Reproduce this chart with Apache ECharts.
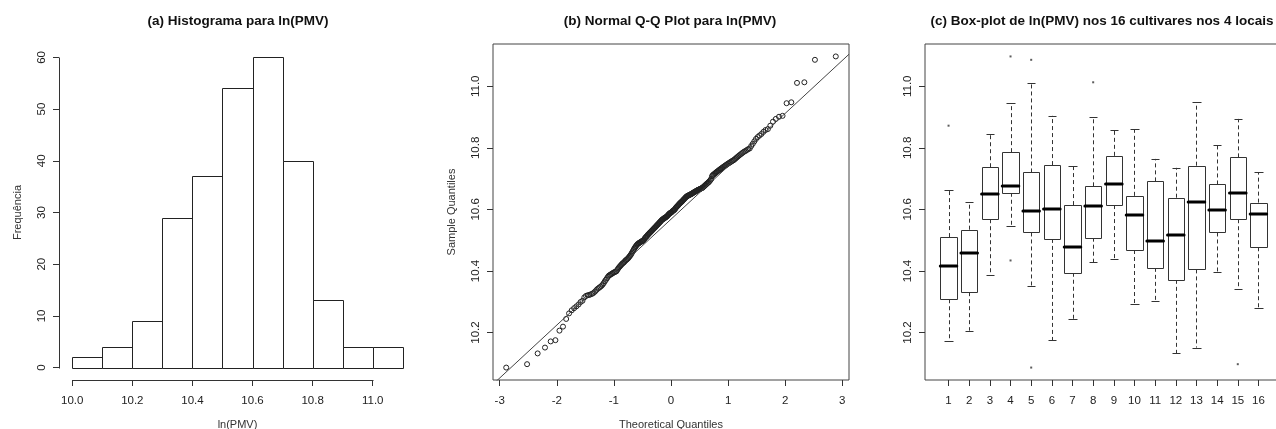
<!DOCTYPE html>
<html><head><meta charset="utf-8">
<script src="https://cdn.jsdelivr.net/npm/echarts@6/dist/echarts.min.js"></script>
<style>html,body{margin:0;padding:0;background:#fff}#c{width:1276px;height:429px}</style>
</head><body><div id="c"></div>
<script>
// ---------- DATA ----------
const histBreaks = [10.0,10.1,10.2,10.3,10.4,10.5,10.6,10.7,10.8,10.9,11.0,11.1];
const histCounts = [2,4,9,29,37,54,60,40,13,4,4];
const histXTicks = [10.0,10.2,10.4,10.6,10.8,11.0];
const histYTicks = [0,10,20,30,40,50,60];

// sorted sample values of ln(PMV)
const qqSample = [
10.086,10.097,10.132,10.151,10.171,10.175,10.206,10.219,10.244,10.262,
10.272,10.279,10.285,10.291,10.299,10.303,10.314,10.319,10.321,10.322,
10.324,10.326,10.329,10.333,10.338,10.342,10.345,10.348,10.351,10.355,
10.360,10.366,10.371,10.376,10.381,10.385,10.387,10.389,10.391,10.393,
10.395,10.396,10.398,10.399,
10.404,10.408,10.412,10.415,10.418,10.421,10.424,10.426,10.428,10.431,
10.434,10.436,10.438,10.440,10.443,10.446,10.449,10.452,10.456,10.460,
10.464,10.468,10.472,10.476,10.479,10.482,10.485,10.487,10.489,10.490,
10.492,10.493,10.494,10.496,10.497,10.498,10.499,
10.502,10.505,10.508,10.510,10.512,10.514,10.517,10.519,10.521,10.523,
10.525,10.527,10.529,10.531,10.533,10.535,10.537,10.539,10.541,10.543,
10.545,10.547,10.549,10.551,10.553,10.555,10.557,10.559,10.561,10.563,
10.565,10.567,10.568,10.569,10.571,10.572,10.573,10.574,10.576,10.577,
10.579,10.581,10.583,10.585,10.587,10.588,10.589,10.590,10.592,10.594,
10.595,10.597,10.598,10.599,
10.602,10.605,10.607,10.609,10.611,10.613,10.615,10.617,10.619,10.621,
10.623,10.624,10.626,10.628,10.630,10.632,10.634,10.636,10.638,10.640,
10.642,10.643,10.644,10.645,10.646,10.647,10.648,10.649,10.650,10.651,
10.652,10.654,10.655,10.656,10.657,10.658,10.660,10.661,10.662,10.663,
10.664,10.665,10.666,10.667,10.668,10.669,10.670,10.672,10.674,10.676,
10.678,10.680,10.682,10.684,10.686,10.688,10.690,10.693,10.696,10.699,
10.708,10.711,10.713,10.715,10.717,10.719,10.721,10.723,10.725,10.727,
10.729,10.731,10.733,10.735,10.737,10.739,10.741,10.743,10.745,10.747,
10.749,10.751,10.753,10.755,10.757,10.759,10.761,10.764,10.767,10.770,
10.773,10.776,10.779,10.782,10.785,10.788,10.790,10.793,10.796,10.798,
10.806,10.813,10.821,10.829,10.835,10.840,10.845,10.852,10.858,10.861,
10.872,10.885,10.894,
10.901,10.904,10.945,10.948,11.011,11.013,11.086,11.097
];
const qqXTicks = [-3,-2,-1,0,1,2,3];
const valueTicks = [10.2,10.4,10.6,10.8,11.0];
const qqLineIntercept = 10.568;
const qqLineSlope = 0.172;

const cultivars = ['1','2','3','4','5','6','7','8','9','10','11','12','13','14','15','16'];
const boxLower  = [10.171,10.206,10.387,10.547,10.351,10.175,10.244,10.428,10.438,10.291,10.301,10.132,10.151,10.395,10.342,10.279];
const boxQ1     = [10.308,10.331,10.568,10.654,10.525,10.504,10.394,10.508,10.614,10.468,10.410,10.371,10.405,10.525,10.568,10.477];
const boxMedian = [10.417,10.457,10.649,10.675,10.594,10.600,10.478,10.611,10.684,10.581,10.498,10.518,10.624,10.598,10.654,10.585];
const boxQ3     = [10.510,10.534,10.737,10.786,10.720,10.744,10.614,10.675,10.774,10.644,10.691,10.638,10.742,10.681,10.769,10.622];
const boxUpper  = [10.663,10.624,10.844,10.945,11.011,10.904,10.741,10.901,10.858,10.861,10.764,10.735,10.948,10.808,10.894,10.721];
const outlierCultivar = [1,4,4,5,5,8,15];
const outlierValue    = [10.872,11.097,10.434,11.086,10.086,11.013,10.097];

// ---------- HELPERS ----------
function qnorm(p){
  const a=[-3.969683028665376e+01,2.209460984245205e+02,-2.759285104469687e+02,1.383577518672690e+02,-3.066479806614716e+01,2.506628277459239e+00];
  const b=[-5.447609879822406e+01,1.615858368580409e+02,-1.556989798598866e+02,6.680131188771972e+01,-1.328068155288572e+01];
  const c=[-7.784894002430293e-03,-3.223964580411365e-01,-2.400758277161838e+00,-2.549732539343734e+00,4.374664141464968e+00,2.938163982698783e+00];
  const d=[7.784695709041462e-03,3.224671290700398e-01,2.445134137142996e+00,3.754408661907416e+00];
  const pl=0.02425, ph=1-pl; let q,r;
  if(p<pl){q=Math.sqrt(-2*Math.log(p));return (((((c[0]*q+c[1])*q+c[2])*q+c[3])*q+c[4])*q+c[5])/((((d[0]*q+d[1])*q+d[2])*q+d[3])*q+1);}
  if(p>ph){q=Math.sqrt(-2*Math.log(1-p));return -(((((c[0]*q+c[1])*q+c[2])*q+c[3])*q+c[4])*q+c[5])/((((d[0]*q+d[1])*q+d[2])*q+d[3])*q+1);}
  q=p-0.5;r=q*q;return (((((a[0]*r+a[1])*r+a[2])*r+a[3])*r+a[4])*r+a[5])*q/(((((b[0]*r+b[1])*r+b[2])*r+b[3])*r+b[4])*r+1);
}
const FONT = "'Liberation Sans', Arial, sans-serif";
const INK = '#222';
const LINE = '#333';
const TICKFS = 11.5;
const px = v => Math.round(v) + 0.5;

function axis(gridIndex, min, max, ticks, extra) {
  return Object.assign({
    type: 'value', gridIndex, min, max,
    axisLine: { show: false, onZero: false },
    splitLine: { show: false },
    axisTick: { show: true, customValues: ticks, length: 6, lineStyle: { color: LINE, width: 1 } },
    axisLabel: { customValues: ticks, fontSize: TICKFS, color: INK, fontFamily: FONT, margin: 15 },
    nameTextStyle: { fontSize: 11, color: LINE, fontFamily: FONT }
  }, extra || {});
}

const n = qqSample.length;
const qqData = qqSample.map((v, i) => [qnorm((i + 0.5) / n), v]);
const qqXMin = -3.117, qqXMax = 3.117;
const valMin = 10.0456, valMax = 11.1374;

const option = {
  animation: false,
  backgroundColor: '#fff',
  textStyle: { fontFamily: FONT },
  grid: [
    { left: 59, top: 45, width: 357, height: 335, show: false, outerBoundsMode: 'none', containLabel: false },
    { left: 493, top: 44, width: 356, height: 336, show: true, borderColor: '#444', borderWidth: 1, backgroundColor: 'transparent', outerBoundsMode: 'none', containLabel: false },
    { left: 925, top: 44, width: 357, height: 336, show: true, borderColor: '#444', borderWidth: 1, backgroundColor: 'transparent', outerBoundsMode: 'none', containLabel: false }
  ],
  xAxis: [
    axis(0, 9.956, 11.144, histXTicks, {
      name: 'ln(PMV)', nameLocation: 'middle', nameGap: 39,
      axisLabel: { customValues: histXTicks, fontSize: TICKFS, color: INK, fontFamily: FONT, margin: 15, formatter: v => v.toFixed(1) }
    }),
    axis(1, qqXMin, qqXMax, qqXTicks, {
      name: 'Theoretical Quantiles', nameLocation: 'middle', nameGap: 39,
      axisLabel: { customValues: qqXTicks, fontSize: TICKFS, color: INK, fontFamily: FONT, margin: 15, formatter: v => String(v) }
    }),
    axis(2, -0.14, 17.14, cultivars.map((c, i) => i + 1), {
      axisLabel: { customValues: cultivars.map((c, i) => i + 1), fontSize: TICKFS, color: INK, fontFamily: FONT, margin: 15, formatter: v => cultivars[Math.round(v) - 1] }
    })
  ],
  yAxis: [
    axis(0, -2.4, 62.4, histYTicks, {
      name: 'Frequência', nameLocation: 'middle', nameGap: 36,
      axisLabel: { customValues: histYTicks, fontSize: TICKFS, color: INK, fontFamily: FONT, margin: 11, rotate: 90, formatter: v => String(v) }
    }),
    axis(1, valMin, valMax, valueTicks, {
      name: 'Sample Quantiles', nameLocation: 'middle', nameGap: 36,
      axisLabel: { customValues: valueTicks, fontSize: TICKFS, color: INK, fontFamily: FONT, margin: 11, rotate: 90, formatter: v => v.toFixed(1) }
    }),
    axis(2, valMin, valMax, valueTicks, {
      axisLabel: { customValues: valueTicks, fontSize: TICKFS, color: INK, fontFamily: FONT, margin: 11, rotate: 90, formatter: v => v.toFixed(1) }
    })
  ],
  graphic: [
    { type: 'text', x: 238, y: 21, style: { text: '(a) Histograma para ln(PMV)', fontSize: 13.5, fontWeight: 'bold', fontFamily: FONT, fill: '#111', align: 'center', verticalAlign: 'middle' } },
    { type: 'text', x: 670, y: 21, style: { text: '(b) Normal Q-Q Plot para ln(PMV)', fontSize: 13.5, fontWeight: 'bold', fontFamily: FONT, fill: '#111', align: 'center', verticalAlign: 'middle' } },
    { type: 'text', x: 1102, y: 21, style: { text: '(c) Box-plot de ln(PMV) nos 16 cultivares nos 4 locais', fontSize: 13.5, fontWeight: 'bold', fontFamily: FONT, fill: '#111', align: 'center', verticalAlign: 'middle' } }
  ],
  series: [
    {
      type: 'custom', xAxisIndex: 0, yAxisIndex: 0, silent: true,
      data: histCounts.map((c, i) => [histBreaks[i], histBreaks[i + 1], c]),
      encode: { x: [0, 1], y: 2 },
      renderItem: (params, api) => {
        const p0 = api.coord([api.value(0), api.value(2)]);
        const p1 = api.coord([api.value(1), 0]);
        const x0 = px(p0[0]), x1 = px(p1[0]), y0 = px(p0[1]), y1 = px(p1[1]);
        return { type: 'rect', shape: { x: x0, y: y0, width: x1 - x0, height: y1 - y0 },
          style: { fill: '#fff', stroke: INK, lineWidth: 1 } };
      }
    },
    {
      type: 'custom', xAxisIndex: 0, yAxisIndex: 0, silent: true, clip: false,
      data: [[histXTicks[0], histYTicks[0]]],
      renderItem: (params, api) => {
        const cs = params.coordSys;
        const yBot = api.coord([histXTicks[0], histYTicks[0]])[1];
        const yTop = api.coord([histXTicks[0], histYTicks[histYTicks.length - 1]])[1];
        const xL = api.coord([histXTicks[0], 0])[0];
        const xR = api.coord([histXTicks[histXTicks.length - 1], 0])[0];
        const ax = px(cs.x), ay = px(cs.y + cs.height);
        return { type: 'group', children: [
          { type: 'line', shape: { x1: ax, y1: px(yBot), x2: ax, y2: px(yTop) }, style: { stroke: LINE, lineWidth: 1 } },
          { type: 'line', shape: { x1: px(xL), y1: ay, x2: px(xR), y2: ay }, style: { stroke: LINE, lineWidth: 1 } }
        ] };
      }
    },
    {
      type: 'line', xAxisIndex: 1, yAxisIndex: 1, silent: true, clip: true,
      showSymbol: false, symbol: 'none',
      data: [[qqXMin, qqLineIntercept + qqLineSlope * qqXMin], [qqXMax, qqLineIntercept + qqLineSlope * qqXMax]],
      lineStyle: { color: '#444', width: 1 }
    },
    {
      type: 'scatter', xAxisIndex: 1, yAxisIndex: 1, silent: true,
      data: qqData, symbol: 'circle', symbolSize: 5,
      itemStyle: { color: 'rgba(0,0,0,0)', borderColor: INK, borderWidth: 1, opacity: 1 }
    },
    {
      type: 'custom', xAxisIndex: 2, yAxisIndex: 2, silent: true,
      data: cultivars.map((c, i) => [i + 1, boxLower[i], boxQ1[i], boxMedian[i], boxQ3[i], boxUpper[i]]),
      encode: { x: 0, y: [1, 2, 3, 4, 5] },
      renderItem: (params, api) => {
        const x = api.value(0);
        const half = api.size([0.8, 0])[0] / 2;
        const cx = api.coord([x, api.value(3)])[0];
        const yLo = api.coord([x, api.value(1)])[1];
        const yQ1 = api.coord([x, api.value(2)])[1];
        const yMd = api.coord([x, api.value(3)])[1];
        const yQ3 = api.coord([x, api.value(4)])[1];
        const yHi = api.coord([x, api.value(5)])[1];
        const xc = px(cx);
        const dash = { stroke: LINE, lineWidth: 1, lineDash: [4, 3] };
        const solid = { stroke: LINE, lineWidth: 1 };
        const l = px(cx - half), r = px(cx + half);
        return { type: 'group', children: [
          { type: 'line', shape: { x1: xc, y1: yQ3, x2: xc, y2: yHi }, style: dash },
          { type: 'line', shape: { x1: xc, y1: yQ1, x2: xc, y2: yLo }, style: dash },
          { type: 'line', shape: { x1: px(cx - half / 2), y1: px(yHi), x2: px(cx + half / 2), y2: px(yHi) }, style: solid },
          { type: 'line', shape: { x1: px(cx - half / 2), y1: px(yLo), x2: px(cx + half / 2), y2: px(yLo) }, style: solid },
          { type: 'rect', shape: { x: l, y: px(yQ3), width: r - l, height: px(yQ1) - px(yQ3) }, style: { fill: '#fff', stroke: LINE, lineWidth: 1 } },
          { type: 'line', shape: { x1: cx - half, y1: Math.round(yMd), x2: cx + half, y2: Math.round(yMd) }, style: { stroke: '#000', lineWidth: 3, lineCap: 'round' } }
        ] };
      }
    },
    {
      type: 'scatter', xAxisIndex: 2, yAxisIndex: 2, silent: true,
      data: outlierCultivar.map((c, i) => [c, outlierValue[i]]),
      symbol: 'rect', symbolSize: 2,
      itemStyle: { color: '#333' }
    }
  ]
};
echarts.init(document.getElementById('c'), null, { renderer: 'canvas' }).setOption(option);
</script>
</body></html>
